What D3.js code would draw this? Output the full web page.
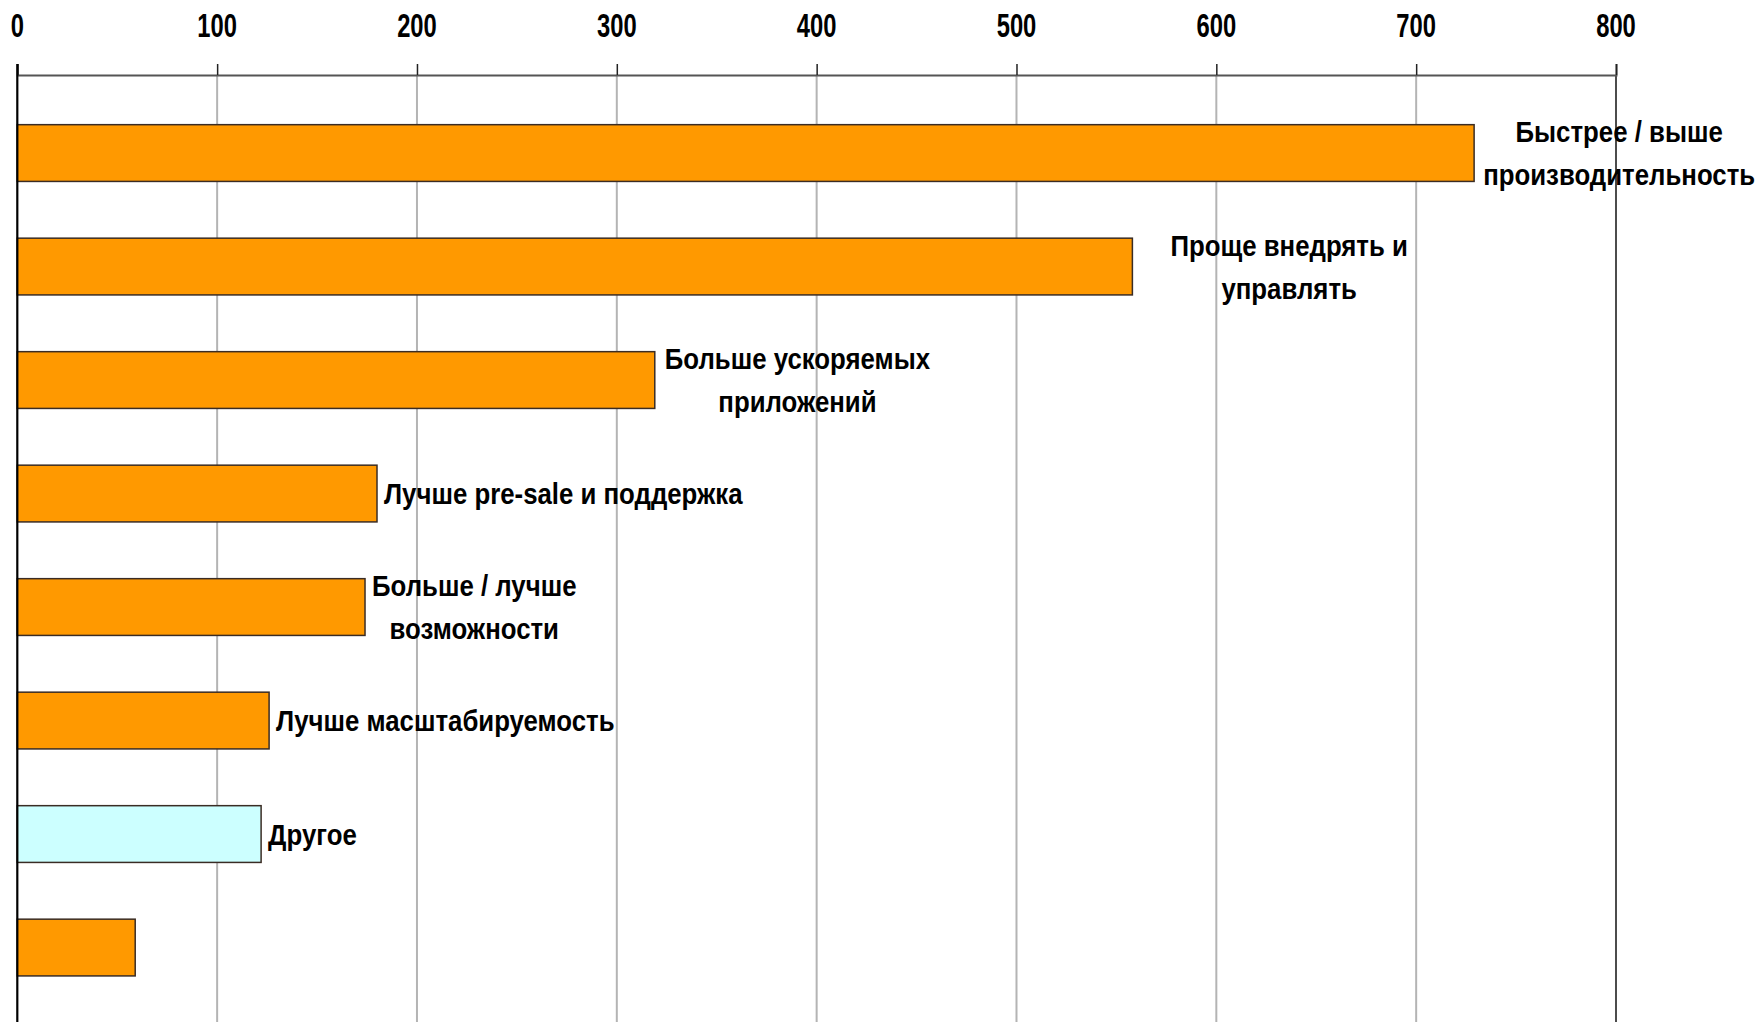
<!DOCTYPE html>
<html>
<head>
<meta charset="utf-8">
<script src="https://cdn.jsdelivr.net/npm/d3@7"></script>
<style>
  body { margin: 0; background: #fff; }
  svg text { font-family: "Liberation Sans", Arial, sans-serif; font-weight: bold; fill: #000; }
</style>
</head>
<body>
<svg id="chart" width="1757" height="1022"></svg>
<script>
// data
var labels = [
  ["Быстрее / выше", "производительность"],
  ["Проще внедрять и", "управлять"],
  ["Больше ускоряемых", "приложений"],
  ["Лучше pre-sale и поддержка"],
  ["Больше / лучше", "возможности"],
  ["Лучше масштабируемость"],
  ["Другое"],
  []
];
var values = [729, 558, 319, 180, 174, 126, 122, 59];
var ticks = [0, 100, 200, 300, 400, 500, 600, 700, 800];
var other = "Другое";

// layout
var width = 1757, height = 1022;
var gap = [9, 38, 10, 7, 7, 7, 7, 7];
var squeeze = 0.86;   // narrow font look

var svg = d3.select("#chart");

var x = d3.scaleLinear().domain([0, 800]).range([17.3, 1616]);
var y = d3.scaleBand()
  .domain(d3.range(values.length))
  .range([96.3, 1004.3])
  .paddingInner(0.5)
  .paddingOuter(0.25);

var axisY = 75;

// grid
svg.append("g").selectAll("line")
  .data(ticks.slice(1, -1))
  .enter().append("line")
    .attr("x1", function(d){ return x(d); })
    .attr("x2", function(d){ return x(d); })
    .attr("y1", axisY)
    .attr("y2", height)
    .style("stroke", "#b4b4b4")
    .style("stroke-width", 2);

// right border of plot area
svg.append("line")
  .attr("x1", x(800)).attr("x2", x(800))
  .attr("y1", axisY).attr("y2", height)
  .style("stroke", "#111").style("stroke-width", 1.5);

// top axis
var ax = svg.append("g")
  .attr("transform", "translate(0," + axisY + ")")
  .call(d3.axisTop(x).tickValues(ticks).tickSize(11).tickFormat(""));
ax.select(".domain").style("stroke", "#555").style("stroke-width", 2);
ax.selectAll(".tick line").style("stroke", "#222").style("stroke-width", 1.5);

svg.append("g").selectAll("text")
  .data(ticks)
  .enter().append("text")
    .attr("transform", function(d){ return "translate(" + x(d) + ",25) scale(0.82,1.12)"; })
    .attr("text-anchor", "middle")
    .attr("dy", "0.36em")
    .style("font-size", "29px")
    .text(function(d){ return d; });

// bars
svg.append("g").selectAll("rect")
  .data(values)
  .enter().append("rect")
    .attr("x", x(0))
    .attr("y", function(d, i){ return y(i); })
    .attr("width", function(d){ return x(d) - x(0); })
    .attr("height", y.bandwidth())
    .style("fill", function(d, i){ return labels[i][0] === other ? "#ccffff" : "#ff9900"; })
    .style("stroke", "#3a2c24")
    .style("stroke-width", 1.5);

// left axis line
svg.append("line")
  .attr("x1", x(0)).attr("x2", x(0))
  .attr("y1", axisY - 11).attr("y2", height)
  .style("stroke", "#000").style("stroke-width", 2.2);

// data labels
var lh = 43;
labels.forEach(function(lines, i){
  if (!lines.length) return;
  var cy = y(i) + y.bandwidth() / 2;
  var left = x(values[i]) + gap[i];
  var g = svg.append("g");
  var texts = g.selectAll("text")
    .data(lines)
    .enter().append("text")
      .attr("dy", "0.35em")
      .style("font-size", "30px")
      .text(function(d){ return d; });
  var w = d3.max(texts.nodes(), function(n){ return n.getComputedTextLength(); }) * squeeze;
  var tx = lines.length > 1 ? left + w / 2 : left;
  texts
    .attr("text-anchor", lines.length > 1 ? "middle" : "start")
    .attr("transform", function(d, k){
      var ty = cy + (k - (lines.length - 1) / 2) * lh;
      return "translate(" + tx + "," + ty + ") scale(" + squeeze + ",1)";
    });
});
</script>
</body>
</html>
